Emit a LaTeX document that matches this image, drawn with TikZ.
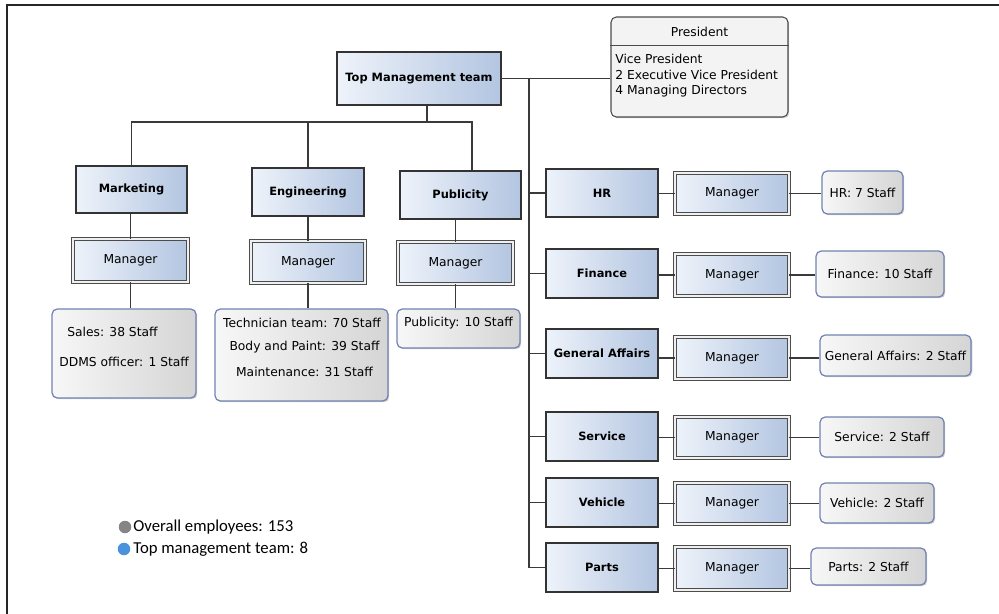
\documentclass[tikz,border=0pt]{standalone}
\usepackage{fontspec}
\setmainfont{DejaVu Sans}
\newfontfamily\legendfont{Carlito}
\usetikzlibrary{shadows,calc}
\definecolor{blueL}{HTML}{EEF3FA}
\definecolor{blueR}{HTML}{B3C5E1}
\definecolor{staffB}{HTML}{7282B2}
\definecolor{staffL}{HTML}{F7F7F7}
\definecolor{staffR}{HTML}{D5D5D5}
\definecolor{presF}{HTML}{F3F3F3}
\definecolor{lineC}{HTML}{3A3A3A}
\definecolor{dotGray}{HTML}{858585}
\definecolor{dotBlue}{HTML}{4A92DC}
% box from corner (x1,y1) to (x2,y2) in pixel units
\newcommand\bx[7]{\node[#6, minimum width={(#4-#2)*0.02cm}, minimum height={(#5-#3)*0.02cm}] (#1) at ({(#2+#4)/2},{(#3+#5)/2}) {#7};}
\begin{document}
\begin{tikzpicture}[x=0.02cm,y=-0.02cm,
  font=\fontsize{7}{8.5}\selectfont,
  conn/.style={draw=lineC, line width=0.6pt},
  shd/.style={drop shadow={shadow xshift=0.7pt, shadow yshift=-0.7pt, fill=black, opacity=0.2}},
  dept/.style={draw=black!80, line width=0.6pt, left color=blueL, right color=blueR,
    inner sep=0pt, font=\fontsize{6.5}{8}\selectfont\bfseries, shd},
  mgr/.style={draw=black!70, line width=0.55pt, double=white!88!gray, double distance=1.1pt,
    left color=blueL, right color=blueR, inner sep=0pt, shd},
  staff/.style={draw=staffB, line width=0.7pt, rounded corners=3pt, left color=staffL,
    right color=staffR, inner sep=0pt, shd},
  presbox/.style={draw=black!70, line width=0.6pt, fill=presF, rounded corners=3pt, inner sep=0pt, shd},
  txt/.style={inner sep=0pt},
  dot/.style={circle, inner sep=0pt, minimum size=0.25cm},
]
\useasboundingbox (0,0) rectangle (999,614);
% frame
\draw[black!85, line width=1.3pt] (7,620) -- (7,5) -- (1005,5);

% top management and president
\bx{tmt}{337}{52}{501}{105}{dept}{Top Management team}
\bx{pres}{611}{17}{788}{117}{presbox}{}
\node[txt] (prest) at (699.5,32) {President};
\draw[black!70, line width=0.6pt] ($(pres.north west)+(0,29)$) -- ($(pres.north east)+(0,29)$);
\node[txt, anchor=west, align=left, font=\fontsize{7}{8.8}\selectfont] (presb) at (615,76)
  {Vice President\\2 Executive Vice President\\4 Managing Directors};

% left branch
\bx{mkt}{76}{166}{187}{213}{dept}{Marketing}
\bx{eng}{252}{168}{364}{216}{dept}{Engineering}
\bx{pub}{400}{171}{521}{219}{dept}{Publicity}
\bx{mktm}{73}{239}{188}{282}{mgr}{Manager}
\bx{engm}{251}{241}{365}{283}{mgr}{Manager}
\bx{pubm}{398}{242}{513}{284}{mgr}{Manager}
\bx{mkts}{52}{309}{196}{398}{staff}{}
\bx{engs}{215}{309}{388}{401}{staff}{}
\bx{pubs}{397}{309}{520}{348}{staff}{}
\node[txt, anchor=west] (t1) at (67,332) {Sales: 38 Staff};
\node[txt, anchor=west] (t2) at (59,362) {DDMS officer: 1 Staff};
\node[txt] (t3) at (302,323) {Technician team: 70 Staff};
\node[txt] (t4) at (304.5,347) {Body and Paint: 39 Staff};
\node[txt] (t5) at (304.5,372) {Maintenance: 31 Staff};
\node[txt] (t6) at (458.5,323) {Publicity: 10 Staff};

\coordinate (tj) at (427,122);
\coordinate (pj) at (472,122);
\draw[conn] (tj |- tmt.south) -- (tj);
\draw[conn] (mkt.north) |- (pj) -- (pj |- pub.north);
\draw[conn] (eng.north) -- (eng.north |- tj);
\draw[conn] (mktm.north) -- (mktm.north |- mkt.south);
\draw[conn] (mktm.south) -- (mktm.south |- mkts.north);
\draw[conn] (engm.north) -- (engm.north |- eng.south);
\draw[conn] (engm.south) -- (engm.south |- engs.north);
\draw[conn] (pubm.north) -- (pubm.north |- pub.south);
\draw[conn] (pubm.south) -- (pubm.south |- pubs.north);

% right branch
\bx{hr}{546}{169}{658}{217}{dept}{HR}
\bx{fin}{546}{249}{658}{298}{dept}{Finance}
\bx{ga}{546}{329}{658}{378}{dept}{General Affairs}
\bx{ser}{546}{412}{658}{461}{dept}{Service}
\bx{veh}{546}{478}{658}{527}{dept}{Vehicle}
\bx{par}{546}{543}{658}{592}{dept}{Parts}

\bx{hrm}{675}{173}{789}{214}{mgr}{Manager}
\bx{finm}{675}{254}{789}{296}{mgr}{Manager}
\bx{gam}{675}{337}{789}{379}{mgr}{Manager}
\bx{serm}{675}{417}{789}{458}{mgr}{Manager}
\bx{vehm}{675}{483}{789}{524}{mgr}{Manager}
\bx{parm}{675}{547}{789}{590}{mgr}{Manager}

\bx{hrs}{822}{171}{903}{214}{staff}{HR: 7 Staff}
\bx{fins}{816}{251}{944}{297}{staff}{Finance: 10 Staff}
\bx{gas}{820}{335}{971}{376}{staff}{General Affairs: 2 Staff}
\bx{sers}{820}{417}{944}{457}{staff}{Service: 2 Staff}
\bx{vehs}{820}{483}{934}{523}{staff}{Vehicle: 2 Staff}
\bx{pars}{811}{548}{926}{585}{staff}{Parts: 2 Staff}

\draw[conn] (tmt.east) -- (tmt.east -| pres.west);
\coordinate (spine) at (529,79);
\draw[conn] (spine) |- (par.west);
\foreach \d in {hr,fin,ga,ser,veh}{
  \draw[conn] (spine |- \d.west) -- (\d.west);
}
\foreach \d in {hr,fin,ga,ser,veh,par}{
  \draw[conn] (\d m.west -| \d.east) -- (\d m.west);
  \draw[conn] (\d m.east) -- (\d m.east -| \d s.west);
}

% legend
\node[dot, fill=dotGray] (d1) at (125,527) {};
\node[dot, fill=dotBlue] (d2) at (124,549) {};
\node[txt, anchor=west, font=\legendfont\fontsize{9.5}{11}\selectfont] (l1) at (133,527) {Overall employees: 153};
\node[txt, anchor=west, font=\legendfont\fontsize{9.5}{11}\selectfont] (l2) at (133,549) {Top management team: 8};
\end{tikzpicture}
\end{document}
